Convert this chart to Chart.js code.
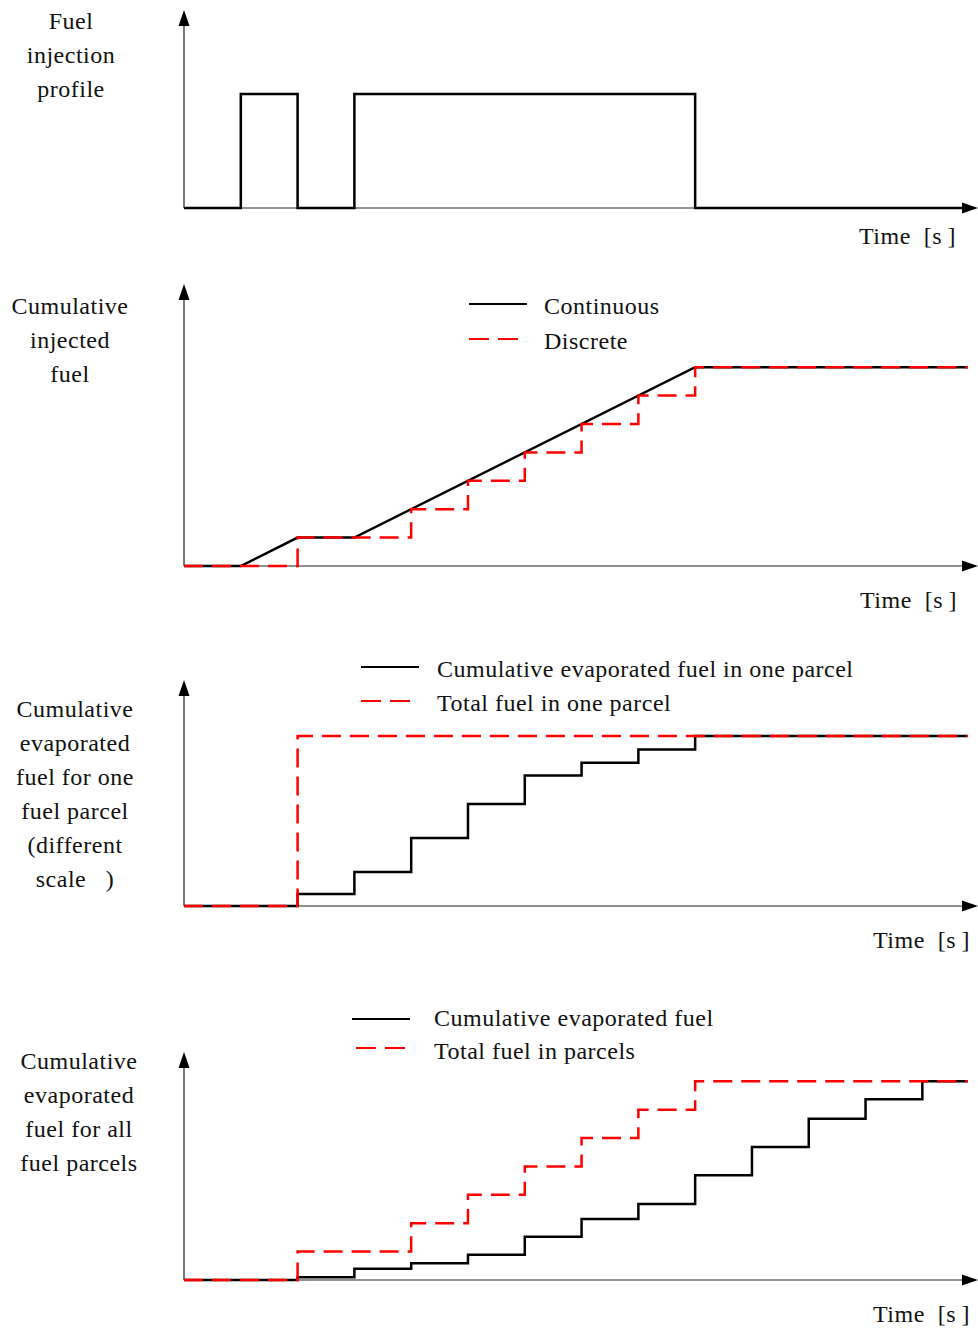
<!DOCTYPE html>
<html>
<head>
<meta charset="utf-8">
<script src="https://cdn.jsdelivr.net/npm/chart.js@4"></script>
<style>
  html, body { margin: 0; padding: 0; background: #fff; }
  body { width: 978px; height: 1333px; position: relative; overflow: hidden;
         font-family: "Liberation Serif", "DejaVu Serif", serif; color: #111; }
  canvas { position: absolute; left: 0; }
  .lab, .time, .leg { position: absolute; font-size: 24px; letter-spacing: 0.5px; white-space: nowrap; }
  .lab { text-align: center; line-height: 34px; }
  .leg { line-height: 34px; }
  .sw { position: absolute; height: 2px; }
  .solid { background: #000; }
  .dash { background: repeating-linear-gradient(90deg, #f00 0 20px, transparent 20px 29px); }
</style>
</head>
<body>

<div class="lab" style="left:0;width:142px;top:4px">Fuel<br>injection<br>profile</div>
<div class="lab" style="left:0;width:140px;top:289px">Cumulative<br>injected<br>fuel</div>
<div class="lab" style="left:0;width:150px;top:692px">Cumulative<br>evaporated<br>fuel for one<br>fuel parcel<br>(different<br>scale &nbsp;&nbsp;)</div>
<div class="lab" style="left:0;width:158px;top:1044px">Cumulative<br>evaporated<br>fuel for all<br>fuel parcels</div>

<div class="time" style="left:859px;top:223px">Time &nbsp;[s&#8201;]</div>
<div class="time" style="left:860px;top:587px">Time &nbsp;[s&#8201;]</div>
<div class="time" style="left:873px;top:927px">Time &nbsp;[s&#8201;]</div>
<div class="time" style="left:873px;top:1301px">Time &nbsp;[s&#8201;]</div>

<div class="sw solid" style="left:469px;top:303px;width:58px"></div>
<div class="leg" style="left:544px;top:289px">Continuous</div>
<div class="sw dash" style="left:469px;top:338px;width:49px"></div>
<div class="leg" style="left:544px;top:324px">Discrete</div>

<div class="sw solid" style="left:361px;top:666px;width:58px"></div>
<div class="leg" style="left:437px;top:652px">Cumulative evaporated fuel in one parcel</div>
<div class="sw dash" style="left:361px;top:700px;width:49px"></div>
<div class="leg" style="left:437px;top:686px">Total fuel in one parcel</div>

<div class="sw solid" style="left:352px;top:1018px;width:58px"></div>
<div class="leg" style="left:434px;top:1001px">Cumulative evaporated fuel</div>
<div class="sw dash" style="left:356px;top:1047px;width:49px"></div>
<div class="leg" style="left:434px;top:1034px">Total fuel in parcels</div>

<canvas id="c1" style="top:0px"></canvas>
<canvas id="c2" style="top:270px"></canvas>
<canvas id="c3" style="top:660px"></canvas>
<canvas id="c4" style="top:1040px"></canvas>

<script>
/* ---- data (time in injection steps) ---- */
const injT      = [0, 1, 2, 3, 9, 13.8];
const injV      = [0, 1, 0, 1, 0, 0];

const contT     = [0, 1, 2, 3, 9, 13.8];
const contV     = [0, 0, 1, 1, 7, 7];
const discT     = [0, 2, 4, 5, 6, 7, 8, 9, 13.8];
const discV     = [0, 1, 2, 3, 4, 5, 6, 7, 7];

const oneTotT   = [0, 2, 13.8];
const oneTotV   = [0, 1, 1];
const oneEvT    = [0, 2, 3, 4, 5, 6, 7, 8, 9, 13.8];
const oneEvV    = [0, 0.07, 0.2, 0.4, 0.6, 0.767, 0.843, 0.92, 1, 1];

const allTotT   = [0, 2, 4, 5, 6, 7, 8, 9, 13.8];
const allTotV   = [0, 1, 2, 3, 4, 5, 6, 7, 7];
const allEvT    = [0, 2, 3, 4, 5, 6, 7, 8, 9, 10, 11, 12, 13, 13.8];
const allEvV    = [0, 0.1, 0.4, 0.59, 0.89, 1.52, 2.15, 2.68, 3.69, 4.68, 5.68, 6.37, 7, 7];

const X_MAX = 13.98;

const pts = (t, v) => t.map((x, i) => ({x, y: v[i]}));

/* axes with arrow heads, drawn under the lines */
const arrowAxes = {
  id: "arrowAxes",
  beforeDatasetsDraw(chart){
    const {ctx, chartArea: a} = chart;
    ctx.save();
    ctx.strokeStyle = "#222";
    ctx.fillStyle = "#000";
    ctx.lineWidth = 1.2;
    ctx.beginPath();
    ctx.moveTo(a.left, a.bottom); ctx.lineTo(a.left, a.top + 10);
    ctx.moveTo(a.left, a.bottom); ctx.lineTo(a.right - 10, a.bottom);
    ctx.stroke();
    ctx.beginPath();
    ctx.moveTo(a.left, a.top); ctx.lineTo(a.left - 5.5, a.top + 16); ctx.lineTo(a.left + 5.5, a.top + 16);
    ctx.closePath(); ctx.fill();
    ctx.beginPath();
    ctx.moveTo(a.right, a.bottom); ctx.lineTo(a.right - 16, a.bottom - 5.5); ctx.lineTo(a.right - 16, a.bottom + 5.5);
    ctx.closePath(); ctx.fill();
    ctx.restore();
  }
};

function solid(data, stepped){
  return {data, borderColor: "#000", borderWidth: 2.5, stepped, pointRadius: 0, clip: false, fill: false};
}
function dashed(data, stepped){
  return {data, borderColor: "#ff0000", borderWidth: 2.5, borderDash: [19, 9], stepped,
          pointRadius: 0, clip: false, fill: false};
}

function makeChart(id, h, padTop, padBottom, yMax, datasets){
  const cv = document.getElementById(id);
  cv.width = 978; cv.height = h;
  cv.style.width = "978px"; cv.style.height = h + "px";
  return new Chart(cv, {
    type: "line",
    data: {datasets},
    options: {
      responsive: false,
      animation: false,
      events: [],
      layout: {padding: {left: 184, right: 0, top: padTop, bottom: padBottom}},
      plugins: {legend: {display: false}, tooltip: {enabled: false}},
      scales: {
        x: {type: "linear", min: 0, max: X_MAX, display: false},
        y: {type: "linear", min: 0, max: yMax, display: false}
      }
    },
    plugins: [arrowAxes]
  });
}

makeChart("c1", 230, 10, 22, 1.737, [solid(pts(injT, injV), "before")]);
makeChart("c2", 320, 14, 24, 9.93, [
  dashed(pts(discT, discV), "before"),
  solid(pts(contT, contV), false)
]);
makeChart("c3", 270, 20, 24, 1.329, [
  dashed(pts(oneTotT, oneTotV), "before"),
  solid(pts(oneEvT, oneEvV), "before")
]);
makeChart("c4", 270, 12, 30, 8.03, [
  dashed(pts(allTotT, allTotV), "before"),
  solid(pts(allEvT, allEvV), "before")
]);
</script>
</body>
</html>
